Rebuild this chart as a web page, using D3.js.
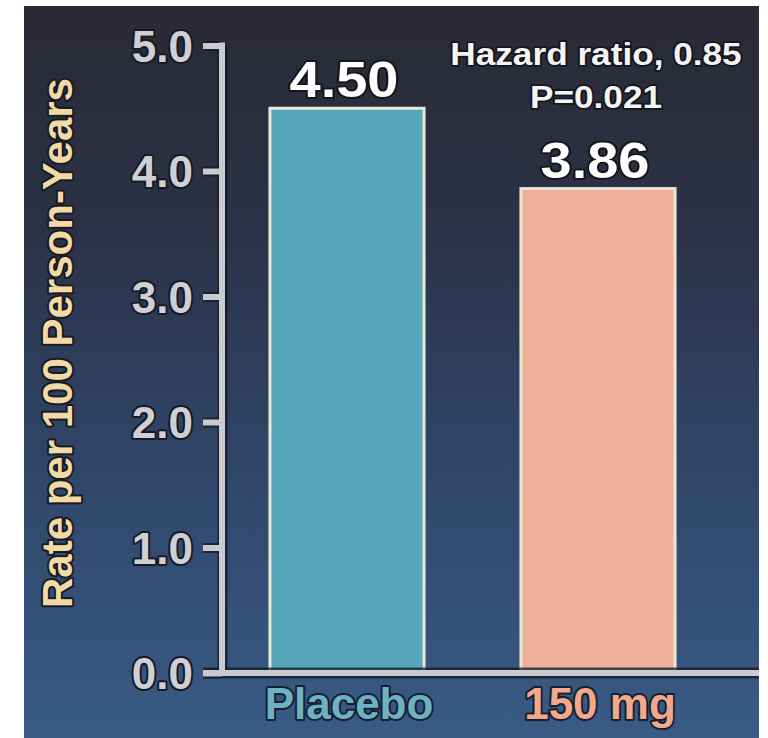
<!DOCTYPE html>
<html>
<head>
<meta charset="utf-8">
<script src="https://cdn.jsdelivr.net/npm/d3@7"></script>
<style>
  html, body { margin: 0; padding: 0; background: #ffffff; }
  svg { display: block; }
  text { font-family: "Liberation Sans", Arial, Helvetica, sans-serif; font-weight: bold; }
</style>
</head>
<body>
<svg id="chart" width="768" height="738"></svg>
<script>
// Event rate per 100 person-years by treatment arm
const categories = ["Placebo", "150 mg"];
const rates = [4.50, 3.86];
const rateLabels = ["4.50", "3.86"];
const tickValues = [0, 1, 2, 3, 4, 5];
const barColors = ["#56a6b9", "#efb09a"];
const categoryColors = ["#6cb2c2", "#f2a98b"];
const annotation = ["Hazard ratio, 0.85", "P=0.021"];
const yTitle = "Rate per 100 Person-Years";

const svg = d3.select("#chart");

// Slide background: dark slate at top fading to blue
const defs = svg.append("defs");
const grad = defs.append("linearGradient")
  .attr("id", "bg").attr("x1", 0).attr("y1", 0).attr("x2", 0).attr("y2", 1);
[[0, "#2a2a34"], [0.3, "#2b3247"], [0.6, "#2f4466"], [1, "#395b86"]]
  .forEach(([o, c]) => grad.append("stop").attr("offset", o).attr("stop-color", c));

svg.append("rect").attr("x", 24).attr("y", 6).attr("width", 735).attr("height", 732)
  .attr("fill", "url(#bg)");

const y = d3.scaleLinear().domain([0, 5]).range([673, 45.5]);
const x = d3.scaleBand().domain(categories).range([221, 724])
  .paddingInner(0.386).paddingOuter(0.195);

const axisLight = "#cacbd0";
const shadow = "#141824";

// Bars
svg.append("g").selectAll("rect.bar")
  .data(categories)
  .join("rect")
  .attr("class", "bar")
  .attr("x", d => x(d))
  .attr("y", (d, i) => y(rates[i]))
  .attr("width", x.bandwidth())
  .attr("height", (d, i) => y(0) - y(rates[i]))
  .attr("fill", (d, i) => barColors[i])
  .attr("stroke", "#e9e6d6")
  .attr("stroke-width", 3);

// Y axis
const yAxis = d3.axisLeft(y).tickValues(tickValues).tickFormat(d3.format(".1f"))
  .tickSize(19).tickSizeOuter(0).tickPadding(10);

// Dark shadow pass under the axis lines
const yAxisShadow = svg.append("g").attr("transform", "translate(222,0)").call(yAxis);
yAxisShadow.selectAll("text").remove();
yAxisShadow.select(".domain").attr("stroke", shadow).attr("stroke-width", 10).attr("opacity", 0.75);
yAxisShadow.selectAll(".tick line").attr("stroke", shadow).attr("stroke-width", 10).attr("opacity", 0.75);

svg.append("line")
  .attr("x1", 203).attr("x2", 759).attr("y1", y(0)).attr("y2", y(0))
  .attr("stroke", shadow).attr("stroke-width", 11).attr("opacity", 0.75);

const yAxisG = svg.append("g").attr("transform", "translate(222,0)").call(yAxis);
yAxisG.select(".domain").attr("stroke", axisLight).attr("stroke-width", 6)
  .attr("d", `M0,${y(5) - 3}V${y(0)}`);
yAxisG.selectAll(".tick line").attr("stroke", axisLight).attr("stroke-width", 6);
yAxisG.selectAll(".tick text")
  .attr("fill", "#cfd0d6")
  .attr("font-size", 44)
  .attr("dy", "0.36em")
  .attr("stroke", "#171a24").attr("stroke-width", 4).attr("paint-order", "stroke")
  .attr("stroke-linejoin", "round");

// X axis baseline
svg.append("line")
  .attr("x1", 203).attr("x2", 759).attr("y1", y(0)).attr("y2", y(0))
  .attr("stroke", axisLight).attr("stroke-width", 6);

// Category labels
svg.append("g").selectAll("text")
  .data(categories)
  .join("text")
  .attr("x", d => x(d) + x.bandwidth() / 2 + 2)
  .attr("y", 719)
  .attr("text-anchor", "middle")
  .attr("font-size", 44)
  .attr("fill", (d, i) => categoryColors[i])
  .attr("stroke", "#172030").attr("stroke-width", 4).attr("paint-order", "stroke")
  .attr("stroke-linejoin", "round")
  .text(d => d);

// Value labels above bars
svg.append("g").selectAll("text")
  .data(categories)
  .join("text")
  .attr("transform", (d, i) =>
    `translate(${x(d) + x.bandwidth() / 2 - 3},${y(rates[i]) - 11}) scale(1.12,1)`)
  .attr("text-anchor", "middle")
  .attr("font-size", 50)
  .attr("fill", "#ffffff")
  .attr("stroke", "#16171e").attr("stroke-width", 4).attr("paint-order", "stroke")
  .attr("stroke-linejoin", "round")
  .text((d, i) => rateLabels[i]);

// Hazard ratio annotation
svg.append("g").selectAll("text")
  .data(annotation)
  .join("text")
  .attr("transform", (d, i) => `translate(596,${65 + i * 43}) scale(1.1,1)`)
  .attr("text-anchor", "middle")
  .attr("font-size", 32)
  .attr("fill", "#f4f4f4")
  .attr("stroke", "#15161c").attr("stroke-width", 3.5).attr("paint-order", "stroke")
  .attr("stroke-linejoin", "round")
  .text(d => d);

// Y axis title
svg.append("text")
  .attr("transform", "translate(72,343) rotate(-90)")
  .attr("text-anchor", "middle")
  .attr("font-size", 42)
  .attr("fill", "#f3d9a4")
  .attr("stroke", "#161a26").attr("stroke-width", 4).attr("paint-order", "stroke")
  .attr("stroke-linejoin", "round")
  .text(yTitle);
</script>
</body>
</html>
